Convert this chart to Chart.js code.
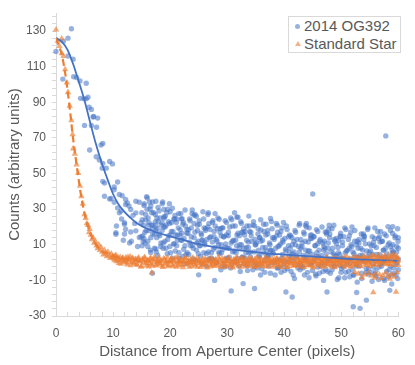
<!DOCTYPE html>
<html><head><meta charset="utf-8">
<script src="https://cdn.jsdelivr.net/npm/chart.js@4/dist/chart.umd.min.js"></script>
<style>
html,body{margin:0;padding:0;background:#fff;}
#wrap{position:relative;width:415px;height:365px;}
#legend{position:absolute;left:288px;top:16px;width:113px;height:37px;border:1px solid #d9d9d9;background:#fff;box-sizing:border-box;font-family:"Liberation Sans",Arial,sans-serif;font-size:15px;color:#595959;}
.item{position:absolute;left:15px;height:18px;line-height:18px;white-space:nowrap;}
.dot{position:absolute;left:-9px;top:6.5px;width:5px;height:5px;border-radius:50%;background:rgba(68,114,196,0.55);}
.tri{position:absolute;left:-9.5px;top:6px;width:0;height:0;border-left:3px solid transparent;border-right:3px solid transparent;border-bottom:5.5px solid rgba(237,125,49,0.6);}
</style></head>
<body>
<div id="wrap">
<canvas id="c" width="415" height="365"></canvas>
<div id="legend">
  <div class="item" style="top:0px"><span class="dot"></span>2014 OG392</div>
  <div class="item" style="top:18px"><span class="tri"></span>Standard Star</div>
</div>
</div>
<script>
const FONT = '"Liberation Sans", Arial, sans-serif';
const seriesNames = ['2014 OG392', 'Standard Star'];
const xTitle = 'Distance from Aperture Center (pixels)';
const yTitle = 'Counts (arbitrary units)';
const xMajor = [0, 10, 20, 30, 40, 50, 60];
const yMajor = [-30, -10, 10, 30, 50, 70, 90, 110, 130];

// 2014 OG392 measured points [distance, counts]
const ogPoints = [
[0,118.5],[1.2,103],[1.3,124.3],[2.1,126],[2.7,131.3],[2.1,116],[3.0,114.2],[3.1,104.3],[3.6,103.9],[4.2,102],
[4.3,92.2],[4.9,91.9],[5.3,100.7],[5.3,91.9],[5.6,92.8],[5.8,87.2],[6.2,86],[6.6,82],[6.5,81.7],[7.3,81.1],
[5.0,77],[6.2,77],[7.1,76],[5.9,63.2],[7.9,66],[8.2,66.9],[7.05,59.4],[7.6,57.6],[8.2,55.7],[9.4,56.7],
[9.9,55.4],[8.8,53],[8.1,53],[8.2,45.6],[8.5,44.6],[10.8,45.2],[10.2,42.4],[10.2,40.9],[8.5,37.2],[9.4,35.7],
[9.65,36],[10.2,33.9],[11.1,38.2],[11.6,37.5],[12.2,35.4],[12.2,32.6],[12.5,33.5],[12.8,31.7],[10.8,30.7],[11.4,28.9],
[11.1,27.9],[13.1,29.8],[14.0,34.4],[14.6,33.9],[14.0,27.9],[13.5,26.5],[12.0,22.4],[12.0,21.5],[14.9,22.4],[12.2,18.7],
[10.5,16.8],[12.0,16],[13.1,17.2],[14,17.8],[14.6,14.1],[10.5,15.9],[13.2,12],[14.3,9],[11.8,12.5],[12.9,11],
[14.9,14.5],[11.5,24.5],[13.8,22],[10.6,20.5],[16.0,36.3],[17.5,34.4],[16.6,31.7],[16.3,22.4],[17.5,20.6],[18.6,22.4],
[18.9,25.6],[15.4,13.5],[15.1,9.4],[17.5,7.6],[16.6,5.7],[18.9,29.8],
[15.05,28],[15.2,15],[15.35,21],[15.45,33],[15.6,11],[15.7,24],[15.8,18],[15.95,30],
[16.1,12],[16.15,25],[16.3,18],[16.5,30],[16.55,7],[16.75,21],[16.9,34],[16.95,16],
[17.0,21],[17.25,8],[17.4,27],[17.5,18],[17.65,14],[17.7,25],[17.85,4],[17.9,23],
[18.05,29],[18.2,15],[18.35,9],[18.45,21],[18.6,18],[18.7,34],[18.8,11],[18.95,25],
[19.1,12],[19.15,26],[19.3,21],[19.5,5],[19.55,30],[19.75,15],[19.9,22],[19.95,9],
[20.0,15.5],[20.25,22.5],[20.4,2.5],[20.5,17.5],[20.65,24.5],[20.7,10.5],[20.85,26.5],[20.9,6.5],
[21.1,22.5],[21.15,9.5],[21.3,15.5],[21.5,27.5],[21.55,5.5],[21.75,18.5],[21.9,12.5],[21.95,24.5],
[22.05,16.5],[22.2,3.5],[22.35,22.5],[22.45,13.5],[22.6,9.5],[22.7,20.5],[22.8,-0.5],[22.95,18.5],
[23.0,5.5],[23.25,18.5],[23.4,11.5],[23.5,23.5],[23.65,0.5],[23.7,14.5],[23.85,27.5],[23.9,9.5],
[24.05,8],[24.2,22],[24.35,17],[24.45,1],[24.6,26],[24.7,11],[24.8,18],[24.95,5],
[25.1,23.5],[25.15,9.5],[25.3,3.5],[25.5,15.5],[25.55,12.5],[25.75,28.5],[25.9,5.5],[25.95,19.5],
[26.05,11],[26.2,18],[26.35,-2],[26.45,13],[26.6,20],[26.7,6],[26.8,22],[26.95,2],
[27.0,18.5],[27.25,5.5],[27.4,11.5],[27.5,23.5],[27.65,1.5],[27.7,14.5],[27.85,8.5],[27.9,20.5],
[28.1,13],[28.15,0],[28.3,19],[28.5,10],[28.55,6],[28.75,17],[28.9,-4],[28.95,15],
[29.0,5.5],[29.25,19.5],[29.4,14.5],[29.5,-1.5],[29.65,23.5],[29.7,8.5],[29.85,15.5],[29.9,2.5],
[30.05,2],[30.2,15],[30.35,8],[30.45,20],[30.6,-3],[30.7,11],[30.8,24],[30.95,6],
[31.0,20.5],[31.25,6.5],[31.4,0.5],[31.5,12.5],[31.65,9.5],[31.7,25.5],[31.85,2.5],[31.9,16.5],
[32.1,8],[32.15,15],[32.3,-5],[32.5,10],[32.55,17],[32.75,3],[32.9,19],[32.95,-1],
[33.05,15.5],[33.2,2.5],[33.35,8.5],[33.45,20.5],[33.6,-1.5],[33.7,11.5],[33.8,5.5],[33.95,17.5],
[34.1,3],[34.15,17],[34.3,12],[34.5,-4],[34.55,21],[34.75,6],[34.9,13],[34.95,0],
[35.0,10],[35.25,-3],[35.4,16],[35.5,7],[35.65,3],[35.7,14],[35.85,-7],[35.9,12],
[36.05,-0.5],[36.2,12.5],[36.35,5.5],[36.45,17.5],[36.6,-5.5],[36.7,8.5],[36.8,21.5],[36.95,3.5],
[37.1,18],[37.15,4],[37.3,-2],[37.5,10],[37.55,7],[37.75,23],[37.9,0],[37.95,14],
[38.0,6],[38.25,13],[38.4,-7],[38.5,8],[38.65,15],[38.7,1],[38.85,17],[38.9,-3],
[39.05,1.5],[39.2,15.5],[39.35,10.5],[39.45,-5.5],[39.6,19.5],[39.7,4.5],[39.8,11.5],[39.95,-1.5],
[40.1,13.5],[40.15,0.5],[40.3,6.5],[40.5,18.5],[40.55,-3.5],[40.75,9.5],[40.9,3.5],[40.95,15.5],
[41.05,8],[41.2,-5],[41.35,14],[41.45,5],[41.6,1],[41.7,12],[41.8,-9],[41.95,10],
[42.0,17],[42.25,3],[42.4,-3],[42.5,9],[42.65,6],[42.7,22],[42.85,-1],[42.9,13],
[43.1,-2],[43.15,11],[43.3,4],[43.5,16],[43.55,-7],[43.75,7],[43.9,20],[43.95,2],
[44.05,4.5],[44.2,11.5],[44.35,-8.5],[44.45,6.5],[44.6,13.5],[44.7,-0.5],[44.8,15.5],[44.95,-4.5],
[45.0,0.5],[45.25,14.5],[45.4,9.5],[45.5,-6.5],[45.65,18.5],[45.7,3.5],[45.85,10.5],[45.9,-2.5],
[46.1,7],[46.15,-6],[46.3,13],[46.5,4],[46.55,0],[46.75,11],[46.9,-10],[46.95,9],
[47.05,12],[47.2,-1],[47.35,5],[47.45,17],[47.6,-5],[47.7,8],[47.8,2],[47.95,14],
[48.0,16],[48.25,2],[48.4,-4],[48.5,8],[48.65,5],[48.7,21],[48.85,-2],[48.9,12],
[49.1,3.5],[49.15,10.5],[49.3,-9.5],[49.5,5.5],[49.55,12.5],[49.75,-1.5],[49.9,14.5],[49.95,-5.5],
[50.05,-3.5],[50.2,9.5],[50.35,2.5],[50.45,14.5],[50.6,-8.5],[50.7,5.5],[50.8,18.5],[50.95,0.5],
[51.0,-1],[51.25,13],[51.4,8],[51.5,-8],[51.65,17],[51.7,2],[51.85,9],[51.9,-4],
[52.05,6],[52.2,-7],[52.35,12],[52.45,3],[52.6,-1],[52.7,10],[52.8,-11],[52.95,8],
[53.1,11],[53.15,-2],[53.3,4],[53.5,16],[53.55,-6],[53.75,7],[53.9,1],[53.95,13],
[54.05,14.5],[54.2,0.5],[54.35,-5.5],[54.45,6.5],[54.6,3.5],[54.7,19.5],[54.8,-3.5],[54.95,10.5],
[55.0,2.5],[55.25,9.5],[55.4,-10.5],[55.5,4.5],[55.65,11.5],[55.7,-2.5],[55.85,13.5],[55.9,-6.5],
[56.1,-4.5],[56.15,8.5],[56.3,1.5],[56.5,13.5],[56.55,-9.5],[56.75,4.5],[56.9,17.5],[56.95,-0.5],
[57.05,-2],[57.2,12],[57.35,7],[57.45,-9],[57.6,16],[57.7,1],[57.8,8],[57.95,-5],
[58.0,5],[58.25,-8],[58.4,11],[58.5,2],[58.65,-2],[58.7,9],[58.85,-12],[58.9,7],
[59.05,10],[59.2,-3],[59.35,3],[59.45,15],[59.6,-7],[59.7,6],[59.8,0],[59.95,12],
[57.8,71.1],[45.0,38.5],[37.6,24.8],[43.7,20.9],[47.8,18.7],[58.2,20.2],[59,20.2],[52.1,-24.8],[53.3,-25.7],[54.4,-21.1],
[52.7,-16.8],[41.4,-19.3],[40.3,-16.5],[47.5,-16.5],[58.5,-15.6],[30.7,-15.9],[27.8,-10],[34.8,-14.6],[32.8,-11.8],[25,-6.9],
[16.9,-6],[20,28.5],[26.7,28],[31.3,28],[33.8,26.1],[22.1,24.6],[24.2,26.5],[28.6,24.3],[32.5,22],[34.8,20.6],
[38.8,21],[60,8],[60,-4],[60,14],[60,2],[59.9,-9],[59,16.3],[35.9,18.3],[47.2,17.2],[44.6,15.4],
[49.8,15],[54,15],[56.7,14.6]
];
// second, denser layer of 2014 OG392 points in the halo
const ogPointsHalo = [
[15.12,24],[15.28,12],[15.42,32],[15.58,17],[15.72,27],[15.88,37],
[16.08,9],[16.22,21],[16.38,34],[16.62,14],[16.78,28],[16.92,19],
[17.12,28],[17.28,16],[17.42,23],[17.58,6],[17.72,19],[17.88,31],
[18.08,16],[18.22,25],[18.38,11],[18.62,33],[18.78,8],[18.92,20],
[19.12,20],[19.28,8],[19.42,28],[19.58,13],[19.72,23],[19.88,33],
[20.08,5.5],[20.22,17.5],[20.38,30.5],[20.62,10.5],[20.78,24.5],[20.92,15.5],
[21.12,24.5],[21.28,12.5],[21.42,19.5],[21.58,2.5],[21.72,15.5],[21.88,27.5],
[22.08,12.5],[22.22,21.5],[22.38,7.5],[22.62,29.5],[22.78,4.5],[22.92,16.5],
[23.12,16.5],[23.28,4.5],[23.42,24.5],[23.58,9.5],[23.72,19.5],[23.88,29.5],
[24.08,2],[24.22,14],[24.38,27],[24.62,7],[24.78,21],[24.92,12],
[25.12,21.5],[25.28,9.5],[25.42,16.5],[25.58,-0.5],[25.72,12.5],[25.88,24.5],
[26.08,10],[26.22,19],[26.38,5],[26.62,27],[26.78,2],[26.92,14],
[27.12,14.5],[27.28,2.5],[27.42,22.5],[27.58,7.5],[27.72,17.5],[27.88,27.5],
[28.08,0],[28.22,12],[28.38,25],[28.62,5],[28.78,19],[28.92,10],
[29.12,19.5],[29.28,7.5],[29.42,14.5],[29.58,-2.5],[29.72,10.5],[29.88,22.5],
[30.08,8],[30.22,17],[30.38,3],[30.62,25],[30.78,0],[30.92,12],
[31.12,12.5],[31.28,0.5],[31.42,20.5],[31.58,5.5],[31.72,15.5],[31.88,25.5],
[32.08,-2],[32.22,10],[32.38,23],[32.62,3],[32.78,17],[32.92,8],
[33.12,17.5],[33.28,5.5],[33.42,12.5],[33.58,-4.5],[33.72,8.5],[33.88,20.5],
[34.08,6],[34.22,15],[34.38,1],[34.62,23],[34.78,-2],[34.92,10],
[35.12,11],[35.28,-1],[35.42,19],[35.58,4],[35.72,14],[35.88,24],
[36.08,-3.5],[36.22,8.5],[36.38,21.5],[36.62,1.5],[36.78,15.5],[36.92,6.5],
[37.12,16],[37.28,4],[37.42,11],[37.58,-6],[37.72,7],[37.88,19],
[38.08,5],[38.22,14],[38.38,0],[38.62,22],[38.78,-3],[38.92,9],
[39.12,9.5],[39.28,-2.5],[39.42,17.5],[39.58,2.5],[39.72,12.5],[39.88,22.5],
[40.08,-4.5],[40.22,7.5],[40.38,20.5],[40.62,0.5],[40.78,14.5],[40.92,5.5],
[41.12,15],[41.28,3],[41.42,10],[41.58,-7],[41.72,6],[41.88,18],
[42.08,4],[42.22,13],[42.38,-1],[42.62,21],[42.78,-4],[42.92,8],
[43.12,9],[43.28,-3],[43.42,17],[43.58,2],[43.72,12],[43.88,22],
[44.08,-5.5],[44.22,6.5],[44.38,19.5],[44.62,-0.5],[44.78,13.5],[44.92,4.5],
[45.12,14.5],[45.28,2.5],[45.42,9.5],[45.58,-7.5],[45.72,5.5],[45.88,17.5],
[46.08,3],[46.22,12],[46.38,-2],[46.62,20],[46.78,-5],[46.92,7],
[47.12,8],[47.28,-4],[47.42,16],[47.58,1],[47.72,11],[47.88,21],
[48.08,-6],[48.22,6],[48.38,19],[48.62,-1],[48.78,13],[48.92,4],
[49.12,13.5],[49.28,1.5],[49.42,8.5],[49.58,-8.5],[49.72,4.5],[49.88,16.5],
[50.08,2.5],[50.22,11.5],[50.38,-2.5],[50.62,19.5],[50.78,-5.5],[50.92,6.5],
[51.12,7],[51.28,-5],[51.42,15],[51.58,0],[51.72,10],[51.88,20],
[52.08,-7],[52.22,5],[52.38,18],[52.62,-2],[52.78,12],[52.92,3],
[53.12,13],[53.28,1],[53.42,8],[53.58,-9],[53.72,4],[53.88,16],
[54.08,1.5],[54.22,10.5],[54.38,-3.5],[54.62,18.5],[54.78,-6.5],[54.92,5.5],
[55.12,6.5],[55.28,-5.5],[55.42,14.5],[55.58,-0.5],[55.72,9.5],[55.88,19.5],
[56.08,-7.5],[56.22,4.5],[56.38,17.5],[56.62,-2.5],[56.78,11.5],[56.92,2.5],
[57.12,12],[57.28,0],[57.42,7],[57.58,-10],[57.72,3],[57.88,15],
[58.08,1],[58.22,10],[58.38,-4],[58.62,18],[58.78,-7],[58.92,5],
[59.12,6],[59.28,-6],[59.42,14],[59.58,-1],[59.72,9],[59.88,19]
];

// Standard Star measured points [distance, counts]
const starPoints = [
[0,130.7],[0.3,124.5],[0.6,121.5],[1.0,125.7],[1.0,117.5],[1.3,115.9],[1.6,108.5],[1.9,101],[2.1,95.6],[2.4,88],
[2.7,79.8],[2.9,72],[3.0,64],[3.3,61],[3.6,55],[3.9,50.2],[4.2,43],[4.45,37.2],[4.7,33],[5.0,27],
[5.2,25],[5.4,22],[5.6,21],[5.8,17],[5.9,18.7],[6.1,15.5],[6.3,13],[6.5,14],[6.7,11],[6.9,12],
[7.1,9.5],[7.3,8],[7.5,10],[7.7,7],[7.9,8.5],[8.1,6],[8.3,4.5],[8.5,7],[8.7,5],[8.9,3.5],
[9.1,6],[9.3,4],[9.5,2.5],[9.7,5],[9.9,3],
[10,3.5],[10.25,1.2],[10.5,4.1],[10.75,2.0],[11,-0.3],[11.25,3.0],[11.5,1.5],[11.75,2.6],
[12,0.8],[12.25,2.9],[12.5,-1.2],[12.75,1.7],[13,3.3],[13.25,0.2],[13.5,2.2],[13.75,-0.6],
[14,1.9],[14.25,-1.5],[14.5,2.8],[14.75,0.5],[15,-2.0],[15.25,1.4],[15.5,3.0],[15.75,-0.4],
[16,0.9],[16.25,-2.3],[16.5,2.1],[16.75,-0.8],[17,1.6],[17.25,3.2],[17.5,-1.7],[17.75,0.3],
[18,2.5],[18.25,-1.0],[18.5,0.7],[18.75,-2.6],[19,1.8],[19.25,-0.2],[19.5,2.9],[19.75,-1.4],
[20,0.4],[20.25,2.3],[20.5,-2.1],[20.75,1.1],[21,-0.7],[21.25,3.0],[21.5,-1.8],[21.75,0.6],
[22,1.9],[22.25,-2.7],[22.5,0.2],[22.75,2.4],[23,-1.2],[23.25,1.3],[23.5,-0.3],[23.75,-2.2],
[24,2.7],[24.25,-0.9],[24.5,0.9],[24.75,-2.4],[25,1.6],[25.25,0.0],[25.5,-1.6],[25.75,2.2],
[26,-0.5],[26.25,1.2],[26.5,-2.9],[26.75,0.7],[27,2.5],[27.25,-1.3],[27.5,0.3],[27.75,-2.0],
[28,1.8],[28.25,-0.6],[28.5,2.9],[28.75,-1.9],[29,0.5],[29.25,-1.1],[29.5,2.0],[29.75,-2.5],
[30,0.8],[30.25,2.6],[30.5,-1.5],[30.75,0.1],[31,-2.8],[31.25,1.5],[31.5,-0.4],[31.75,2.3],
[32,-1.7],[32.25,0.6],[32.5,2.8],[32.75,-0.9],[33,1.2],[33.25,-2.3],[33.5,0.4],[33.75,1.9],
[34,-1.2],[34.25,2.4],[34.5,-0.2],[34.75,-2.6],[35,1.0],[35.25,2.9],[35.5,-1.5],[35.75,0.3],
[36,2.0],[36.25,-2.0],[36.5,0.9],[36.75,-0.7],[37,2.6],[37.25,-1.8],[37.5,1.4],[37.75,-0.1],
[38,-2.4],[38.25,1.7],[38.5,0.2],[38.75,2.5],[39,-1.3],[39.25,0.7],[39.5,-2.7],[39.75,1.9],
[40,0.5],[40.25,-1.0],[40.5,2.7],[40.75,-2.2],[41,1.1],[41.25,-0.4],[41.5,2.2],[41.75,-1.6],
[42,0.0],[42.25,2.9],[42.5,-1.9],[42.75,1.3],[43,-0.8],[43.25,2.1],[43.5,-2.6],[43.75,0.8],
[44,1.6],[44.25,-1.4],[44.5,0.4],[44.75,2.8],[45,-2.1],[45.25,1.0],[45.5,-0.5],[45.75,2.4],
[46,-1.8],[46.25,0.6],[46.5,2.0],[46.75,-2.5],[47,1.5],[47.25,-0.2],[47.5,2.7],[47.75,-1.1],
[48,0.9],[48.25,-2.3],[48.5,1.8],[48.75,-0.6],[49,2.5],[49.25,-1.7],[49.5,0.3],[49.75,1.4],
[50,-1.0],[50.25,2.2],[50.5,-2.4],[50.75,0.8],[51,3.0],[51.25,-0.7],[51.5,1.6],[51.75,-1.9],
[52,2.4],[52.25,0.1],[52.5,-1.5],[52.75,3.2],[53,-0.3],[53.25,1.9],[53.5,-2.2],[53.75,1.1],
[54,3.4],[54.25,-0.8],[54.5,2.0],[54.75,0.5],[55,-2.0],[55.25,3.7],[55.5,1.2],[55.75,-1.3],
[56,2.6],[56.25,0.2],[56.5,4.0],[56.75,-1.6],[57,1.8],[57.25,3.1],[57.5,-0.5],[57.75,2.3],
[58,0.9],[58.25,3.8],[58.5,-1.0],[58.75,2.7],[59,4.3],[59.25,0.4],[59.5,1.9],[59.75,3.5],[60,1.2],[60,-1.5],
[16.8,-5.7],[52.4,-5.4],[53.0,-6.3],[53.6,-8.5],[54.1,-6.8],[54.8,-6.0],[55.3,-7.5],[55.6,-16.8],[56.0,-6.2],[56.7,-6.8],
[57.3,-7.2],[57.8,-5.8],[58.2,-7.8],[58.8,-6.5],[59.3,-8.0],[59.6,-16.5],[59.8,-5.5],[55.9,-8.6],[57.0,-8.9],[58.5,-9.2]
];
// interleaved Standard Star samples
const starPointsMid = [
[10.125,2.2],[10.375,3.8],[10.625,0.6],[10.875,2.9],[11.125,1.4],[11.375,-0.8],[11.625,2.4],[11.875,0.3],
[12.125,1.5],[12.375,-0.2],[12.625,3.1],[12.875,0.9],[13.125,-1.6],[13.375,2.5],[13.625,0.0],[13.875,1.8],
[14.125,-0.9],[14.375,2.2],[14.625,0.8],[14.875,-2.4],[15.125,1.9],[15.375,-0.1],[15.625,2.5],[15.875,-1.7],
[16.125,1.3],[16.375,-0.6],[16.625,2.6],[16.875,-1.9],[17.125,0.4],[17.375,2.0],[17.625,-1.2],[17.875,1.1],
[18.125,-0.3],[18.375,1.5],[18.625,-2.0],[18.875,2.3],[19.125,-0.9],[19.375,1.0],[19.625,-2.2],[19.875,0.6],
[20.125,1.8],[20.375,-1.3],[20.625,0.7],[20.875,2.5],[21.125,-2.4],[21.375,0.2],[21.625,1.6],[21.875,-0.8],
[22.125,-1.5],[22.375,1.0],[22.625,2.6],[22.875,-0.6],[23.125,0.5],[23.375,-2.5],[23.625,1.7],[23.875,0.1],
[24.125,0.3],[24.375,-1.8],[24.625,2.1],[24.875,-0.4],[25.125,1.2],[25.375,-2.6],[25.625,0.8],[25.875,-1.0],
[26.125,2.0],[26.375,-1.6],[26.625,1.1],[26.875,-0.2],[27.125,-2.3],[27.375,1.9],[27.625,-0.8],[27.875,0.9],
[28.125,-1.4],[28.375,0.2],[28.625,1.5],[28.875,-2.6],[29.125,2.3],[29.375,-0.3],[29.625,0.9],[29.875,-1.7],
[30.125,2.1],[30.375,-0.9],[30.625,0.5],[30.875,-2.1],[31.125,1.8],[31.375,-1.2],[31.625,2.6],[31.875,-0.2],
[32.125,0.9],[32.375,-2.5],[32.625,1.6],[32.875,-0.3],[33.125,2.2],[33.375,-1.0],[33.625,-2.0],[33.875,0.7],
[34.125,1.4],[34.375,-1.8],[34.625,0.6],[34.875,2.1],[35.125,-0.9],[35.375,-2.1],[35.625,1.8],[35.875,-0.6],
[36.125,-1.1],[36.375,0.3],[36.625,2.4],[36.875,-2.3],[37.125,0.5],[37.375,1.7],[37.625,-0.4],[37.875,2.2],
[38.125,0.8],[38.375,-1.5],[38.625,2.0],[38.875,-0.5],[39.125,-2.2],[39.375,1.3],[39.625,0.1],[39.875,-1.0],
[40.125,1.9],[40.375,-2.6],[40.625,0.2],[40.875,1.5],[41.125,-0.7],[41.375,2.5],[41.625,-1.9],[41.875,0.6],
[42.125,-1.3],[42.375,1.6],[42.625,0.3],[42.875,-2.4],[43.125,2.0],[43.375,-0.2],[43.625,1.2],[43.875,-1.5],
[44.125,0.2],[44.375,2.3],[44.625,-1.7],[44.875,0.9],[45.125,-2.8],[45.375,1.8],[45.625,0.5],[45.875,-0.9],
[46.125,2.2],[46.375,-1.2],[46.625,0.0],[46.875,1.4],[47.125,-2.0],[47.375,2.6],[47.625,-0.6],[47.875,1.0],
[48.125,-1.5],[48.375,0.5],[48.625,2.4],[48.875,-2.7],[49.125,0.8],[49.375,1.9],[49.625,-1.2],[49.875,0.1],
[50.125,1.5],[50.375,-0.4],[50.625,2.8],[50.875,-1.6],[51.125,0.3],[51.375,2.1],[51.625,-2.3],[51.875,0.9],
[52.125,-0.9],[52.375,2.6],[52.625,0.6],[52.875,-1.8],[53.125,2.0],[53.375,-0.1],[53.625,3.0],[53.875,0.4],
[54.125,1.7],[54.375,-1.5],[54.625,2.9],[54.875,0.1],[55.125,-0.7],[55.375,2.4],[55.625,4.1],[55.875,0.8],
[56.125,-0.9],[56.375,3.3],[56.625,1.2],[56.875,-0.1],[57.125,2.8],[57.375,0.6],[57.625,3.9],[57.875,-1.1],
[58.125,2.0],[58.375,-0.4],[58.625,3.3],[58.875,1.1],[59.125,-1.4],[59.375,3.9],[59.625,0.6],[59.875,2.6]
];

// fitted profiles
const ogFitX = [0,1,2,3,4,5,6,7,8,9,10,11,12,13,14,16,18,20,22,25,28,31,34,37,40,44,48,52,56,60];
const ogFitY = [126,124,119.5,111.5,101.5,91,78.5,66.5,56,47,38.5,32.5,28.5,25.3,22.5,19,16.6,14.7,13,10.3,8.6,7.3,6.2,5.2,4.5,3.6,2.8,1.9,1.4,1.0];
const starFitX = [0,0.5,1,1.5,2,2.5,3,3.5,4,4.5,5,5.5,6,6.5,7,7.5,8,9,10,11,12,14,16,20,25,30,40,50,60];
const starFitY = [126,121.5,117,108.5,97.5,84,69.5,57.5,46,35.5,27.5,21.5,16.5,13,10,8,6.3,5.2,3.8,2.6,1.9,1.1,0.7,0.4,0.3,0.2,0.2,0.3,0.5];

const toXY = arr => arr.map(p => ({x: p[0], y: p[1]}));
const zipXY = (xs, ys) => xs.map((x, i) => ({x, y: ys[i]}));

const insideXTicks = {
  id: 'insideXTicks',
  afterDatasetsDraw(chart) {
    const sx = chart.scales.x, ctx = chart.ctx, b = chart.chartArea.bottom;
    ctx.save();
    ctx.strokeStyle = '#d9d9d9'; ctx.lineWidth = 1;
    sx.ticks.forEach(t => {
      const px = Math.round(sx.getPixelForValue(t.value)) + 0.5;
      ctx.beginPath(); ctx.moveTo(px, b); ctx.lineTo(px, b - 4); ctx.stroke();
    });
    ctx.restore();
  }
};

new Chart(document.getElementById('c'), {
  type: 'scatter',
  data: {
    datasets: [
      {label: seriesNames[0] + ' fit', type: 'line', data: zipXY(ogFitX, ogFitY), borderColor: '#4472C4', borderWidth: 1.8,
       pointRadius: 0, fill: false, cubicInterpolationMode: 'monotone', order: 2},
      {label: seriesNames[1] + ' fit', type: 'line', data: zipXY(starFitX, starFitY), borderColor: '#ED7D31', borderWidth: 2.2,
       borderDash: [7, 4], pointRadius: 0, fill: false, cubicInterpolationMode: 'monotone', order: 1},
      {label: seriesNames[1], data: toXY(starPoints.concat(starPointsMid)), pointStyle: 'triangle', pointRadius: 3.7, borderWidth: 0,
       backgroundColor: 'rgba(237,125,49,0.65)', clip: false, order: 3},
      {label: seriesNames[0], data: toXY(ogPoints.concat(ogPointsHalo)), pointStyle: 'circle', pointRadius: 2.7, borderWidth: 0,
       backgroundColor: 'rgba(68,114,196,0.55)', clip: false, order: 4}
    ]
  },
  options: {
    responsive: false, animation: false, devicePixelRatio: 1,
    layout: {padding: {top: 10, right: 13, left: 0, bottom: 0}},
    plugins: {legend: {display: false}, tooltip: {enabled: false}},
    elements: {point: {hoverRadius: 0}},
    scales: {
      x: {
        type: 'linear', min: 0, max: 60,
        afterBuildTicks(s) { const t = []; for (let v = 0; v <= 60; v += 2) t.push({value: v}); s.ticks = t; },
        afterFit(s) { s.height = 49; },
        ticks: {autoSkip: false, maxRotation: 0, padding: 10, color: '#595959', font: {size: 12, family: FONT},
                callback: v => xMajor.includes(v) ? String(v) : ''},
        grid: {display: true, drawOnChartArea: false, drawTicks: false, color: '#d9d9d9'},
        border: {display: true, color: '#d9d9d9', width: 1},
        title: {display: true, text: xTitle, color: '#595959', font: {size: 15, family: FONT}, padding: {top: 0, bottom: 4}}
      },
      y: {
        type: 'linear', min: -30, max: 140,
        afterBuildTicks(s) { const t = []; for (let v = -30; v <= 138; v += 4) t.push({value: v}); s.ticks = t; },
        afterFit(s) { s.width = 56; },
        ticks: {autoSkip: false, padding: 6, color: '#595959', font: {size: 12, family: FONT},
                callback: v => yMajor.includes(v) ? String(v) : ''},
        grid: {display: true, drawOnChartArea: false, drawTicks: true, tickLength: 4, color: '#d9d9d9'},
        border: {display: true, color: '#d9d9d9', width: 1},
        title: {display: true, text: yTitle, color: '#595959', font: {size: 15, family: FONT}, padding: {top: 6, bottom: 0}}
      }
    }
  },
  plugins: [insideXTicks]
});
</script>
</body></html>
